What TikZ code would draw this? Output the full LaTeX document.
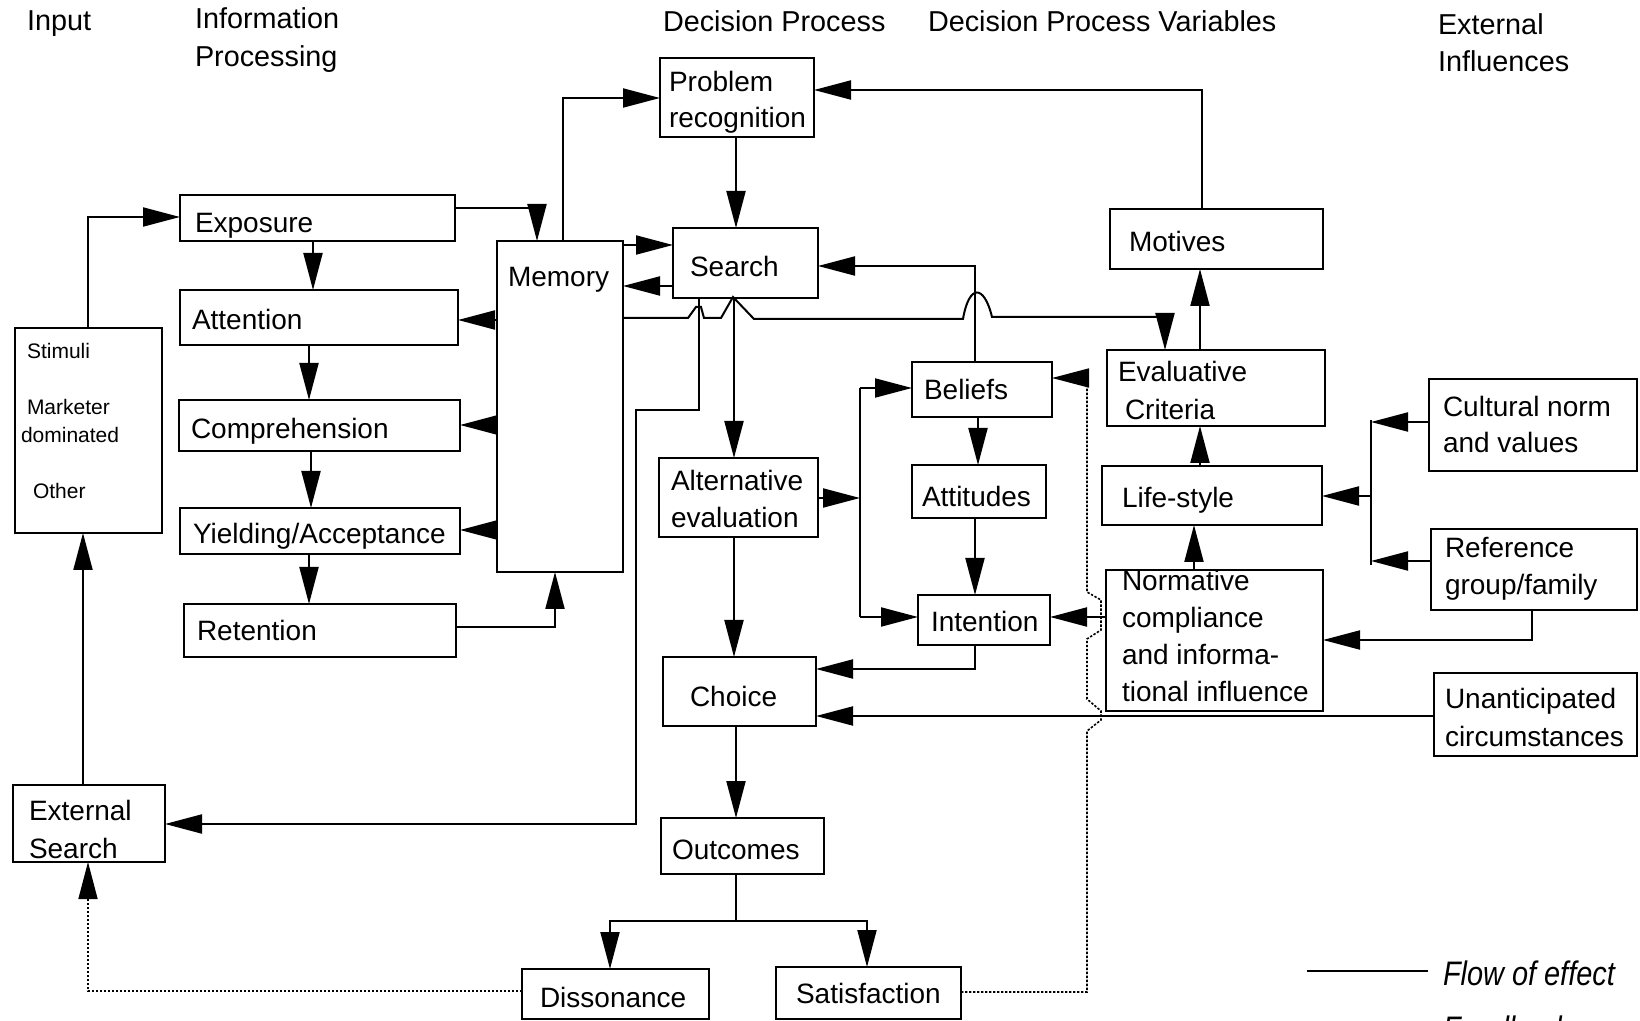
\documentclass[tikz,border=0pt]{standalone}
\usepackage{fontspec}
\setmainfont{Liberation Sans}
\usetikzlibrary{arrows.meta}
\newcommand{\bx}[5]{\node[box, anchor=north west, minimum width={(#4-#2)*0.5pt}, minimum height={(#5-#3)*0.5pt}] (#1) at (#2,#3) {};}
\newcommand{\tx}[4]{\node[txt] (#1) at (#2,#3) {#4};}
\begin{document}
\begin{tikzpicture}[x=0.5pt,y=-0.5pt,
  box/.style={draw, line width=1.2pt, inner sep=0pt, outer sep=0pt},
  txt/.style={anchor=base west, inner sep=0pt, outer sep=0pt, font=\fontsize{14}{17}\selectfont},
  hdr/.style={txt, font=\fontsize{14.4}{17}\selectfont},
  sml/.style={txt, font=\fontsize{10.5}{12}\selectfont},
  leg/.style={txt, font=\fontsize{17}{20}\selectfont\itshape, xscale=0.85},
  ln/.style={line width=1pt},
  arr/.style={ln, -{Triangle[length=18.5pt,width=9.5pt]}},
  fb/.style={line width=0.8pt, dash pattern=on 1.2pt off 0.8pt},
  fbarr/.style={fb, -{Triangle[length=18.5pt,width=9.5pt]}}]
\useasboundingbox (0,0) rectangle (1640,1021);
\clip (0,0) rectangle (1640,1021);
% headers
\node[hdr] (h1) at (27,31) {Input};
\node[hdr] (h2) at (195,29) {Information};
\node[hdr] (h3) at (195,67) {Processing};
\node[hdr] (h4) at (663,32) {Decision Process};
\node[hdr] (h5) at (928,32) {Decision Process Variables};
\node[hdr] (h6) at (1438,35) {External};
\node[hdr] (h7) at (1438,72) {Influences};
% boxes
\bx{stim}{15}{328}{162}{533}
\bx{expo}{180}{195}{455}{241}
\bx{att}{180}{290}{458}{345}
\bx{comp}{179}{400}{460}{451}
\bx{yld}{180}{508}{460}{554}
\bx{ret}{184}{604}{456}{657}
\bx{mem}{497}{241}{623}{572}
\bx{es}{13}{785}{165}{862}
\bx{pr}{660}{58}{814}{137}
\bx{srch}{673}{228}{818}{298}
\bx{alt}{659}{458}{818}{537}
\bx{cho}{663}{657}{816}{726}
\bx{out}{661}{818}{824}{874}
\bx{dis}{522}{969}{709}{1019}
\bx{sat}{776}{967}{961}{1019}
\bx{bel}{912}{362}{1052}{417}
\bx{atd}{912}{465}{1046}{518}
\bx{int}{918}{595}{1050}{645}
\bx{mot}{1110}{209}{1323}{269}
\bx{ec}{1107}{350}{1325}{426}
\bx{life}{1102}{466}{1322}{525}
\bx{norm}{1106}{570}{1323}{711}
\bx{cult}{1429}{379}{1637}{471}
\bx{ref}{1431}{529}{1637}{610}
\bx{un}{1434}{673}{1637}{756}
% texts
\node[sml] (s1) at (27,359) {Stimuli};
\node[sml] (s2) at (27,415) {Marketer};
\node[sml] (s3) at (21,443) {dominated};
\node[sml] (s4) at (33,499) {Other};
\tx{t1}{195}{233}{Exposure}
\tx{t2}{192}{330}{Attention}
\tx{t3}{191}{439}{Comprehension}
\tx{t4}{193}{544}{Yielding/Acceptance}
\tx{t5}{197}{640}{Retention}
\tx{t6}{508}{287}{Memory}
\tx{t7}{29}{820}{External}
\tx{t8}{29}{858}{Search}
\tx{t9}{669}{92}{Problem}
\tx{t10}{669}{128}{recognition}
\tx{t11}{690}{277}{Search}
\tx{t12}{671}{491}{Alternative}
\tx{t13}{671}{528}{evaluation}
\tx{t14}{690}{706}{Choice}
\tx{t15}{672}{859}{Outcomes}
\tx{t16}{540}{1007}{Dissonance}
\tx{t17}{796}{1003}{Satisfaction}
\tx{t18}{924}{400}{Beliefs}
\tx{t19}{922}{507}{Attitudes}
\tx{t20}{931}{632}{Intention}
\tx{t21}{1129}{252}{Motives}
\tx{t22}{1118}{382}{Evaluative}
\tx{t23}{1125}{420}{Criteria}
\tx{t24}{1122}{508}{Life-style}
\tx{t25}{1122}{591}{Normative}
\tx{t26}{1122}{628}{compliance}
\tx{t27}{1122}{665}{and informa-}
\tx{t28}{1122}{702}{tional influence}
\tx{t29}{1443}{417}{Cultural norm}
\tx{t30}{1443}{453}{and values}
\tx{t31}{1445}{558}{Reference}
\tx{t32}{1445}{595}{group/family}
\tx{t33}{1445}{708}{Unanticipated}
\tx{t34}{1445}{747}{circumstances}
% legend
\coordinate (lg1) at (1307,971);
\coordinate (lg2) at (1428,971);
\draw[ln] (lg1) -- (lg2);
\node[leg] (l1) at (1443,985) {Flow of effect};
\node[leg] (l2) at (1443,1040) {Feedback};
% information processing connectors
\draw[arr] (stim.north -| 88,0) -- (88,217) -- (expo.west |- 0,217);
\draw[arr] (es.north -| 83,0) -- (stim.south -| 83,0);
\draw[arr] (expo.south -| 313,0) -- (att.north -| 313,0);
\draw[arr] (att.south -| 309,0) -- (comp.north -| 309,0);
\draw[arr] (comp.south -| 311,0) -- (yld.north -| 311,0);
\draw[arr] (yld.south -| 309,0) -- (ret.north -| 309,0);
\draw[arr] (expo.east |- 0,208) -- (537,208) -- (mem.north -| 537,0);
\draw[arr] (mem.west |- 0,320) -- (att.east |- 0,320);
\draw[arr] (mem.west |- 0,425) -- (comp.east |- 0,425);
\draw[arr] (mem.west |- 0,530) -- (yld.east |- 0,530);
\draw[arr] (ret.east |- 0,627) -- (555,627) -- (mem.south -| 555,0);
% memory / search
\draw[arr] (mem.north -| 563,0) -- (563,98) -- (pr.west |- 0,98);
\draw[arr] (mem.east |- 0,245) -- (srch.west |- 0,245);
\draw[arr] (srch.west |- 0,286) -- (mem.east |- 0,286);
\draw[arr] (pr.south -| 736,0) -- (srch.north -| 736,0);
\draw[arr] (srch.south -| 699,0) -- (699,410) -- (636,410) -- (636,824) -- (es.east |- 0,824);
\draw[arr] (mem.east |- 0,318) -- (688,318) -- (696,307) -- (701,307) -- (704,318) -- (721,318)
  -- (733,297) -- (754,319) -- (963,319) .. controls (969,284) and (984,284) .. (992,317)
  -- (1165,317) -- (ec.north -| 1165,0);
\draw[arr] (srch.south -| 734,0) -- (alt.north -| 734,0);
\draw[arr] (alt.south -| 734,0) -- (cho.north -| 734,0);
\draw[arr] (cho.south -| 736,0) -- (out.north -| 736,0);
\draw[ln] (out.south -| 736,0) -- (736,921);
\draw[arr] (736,921) -- (610,921) -- (dis.north -| 610,0);
\draw[arr] (736,921) -- (867,921) -- (sat.north -| 867,0);
% decision process variables
\draw[arr] (bel.north -| 975,0) -- (975,266) -- (srch.east |- 0,266);
\draw[arr] (alt.east |- 0,498) -- (860,498);
\draw[ln] (860,388) -- (860,617);
\draw[arr] (860,388) -- (bel.west |- 0,388);
\draw[arr] (860,617) -- (int.west |- 0,617);
\draw[arr] (bel.south -| 978,0) -- (atd.north -| 978,0);
\draw[arr] (atd.south -| 975,0) -- (int.north -| 975,0);
\draw[arr] (int.south -| 975,0) -- (975,669) -- (cho.east |- 0,669);
\draw[arr] (mot.north -| 1202,0) -- (1202,90) -- (pr.east |- 0,90);
\draw[arr] (ec.north -| 1200,0) -- (mot.south -| 1200,0);
\draw[arr] (life.north -| 1200,0) -- (ec.south -| 1200,0);
\draw[arr] (norm.north -| 1194,0) -- (life.south -| 1194,0);
\draw[arr] (norm.west |- 0,617) -- (int.east |- 0,617);
% external influences
\draw[ln] (1371,420) -- (1371,565);
\draw[arr] (cult.west |- 0,422) -- (1371,422);
\draw[arr] (ref.west |- 0,561) -- (1371,561);
\draw[arr] (1371,496) -- (life.east |- 0,496);
\draw[arr] (ref.south -| 1532,0) -- (1532,640) -- (norm.east |- 0,640);
\draw[arr] (un.west |- 0,716) -- (cho.east |- 0,716);
% feedback (dotted)
\draw[fbarr] (sat.east |- 0,992) -- (1087,992) -- (1087,731) -- (1101,720) -- (1101,711) -- (1087,699)
  -- (1087,639) -- (1101,630) -- (1101,600) -- (1087,592) -- (1087,378) -- (bel.east |- 0,378);
\draw[fbarr] (dis.west |- 0,991) -- (88,991) -- (es.south -| 88,0);
\end{tikzpicture}
\end{document}
